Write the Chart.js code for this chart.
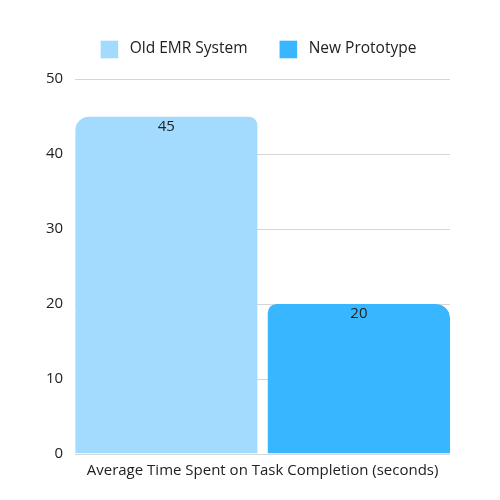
<!DOCTYPE html>
<html>
<head>
<meta charset="utf-8">
<script src="https://cdn.jsdelivr.net/npm/chart.js@4/dist/chart.umd.min.js"></script>
<style>
html,body{margin:0;padding:0;background:#fff;}
#wrap{width:500px;height:500px;}
</style>
</head>
<body>
<div id="wrap"><canvas id="c" width="500" height="500"></canvas></div>
<script>
const categories = ["Average Time Spent on Task Completion (seconds)"];
const seriesNames = ["Old EMR System", "New Prototype"];
const oldValues = [45];
const newValues = [20];
const yTicks = [0, 10, 20, 30, 40, 50];

const FONT = "'Open Sans', 'Noto Sans', sans-serif";
const TEXT = "#222222";

const valueLabels = {
  id: "valueLabels",
  afterDatasetsDraw(chart) {
    const ctx = chart.ctx;
    ctx.save();
    ctx.font = "15px " + FONT;
    ctx.fillStyle = TEXT;
    ctx.textAlign = "center";
    ctx.textBaseline = "middle";
    chart.data.datasets.forEach((ds, i) => {
      const bw = ds.borderWidth || {};
      const shift = ((bw.left || 0) - (bw.right || 0)) / 2;
      chart.getDatasetMeta(i).data.forEach((bar, j) => {
        ctx.fillText(String(ds.data[j]), bar.x + shift, bar.y + 10);
      });
    });
    ctx.restore();
  }
};

const customLegend = {
  id: "customLegend",
  afterDraw(chart) {
    const ctx = chart.ctx;
    const box = 17.6, gapText = 11.5, gapItem = 32, cy = 49.5;
    ctx.save();
    ctx.font = "15.5px " + FONT;
    const items = chart.data.datasets.map(ds => ({
      text: ds.label, color: ds.backgroundColor, w: ctx.measureText(ds.label).width
    }));
    const total = items.reduce((s, it) => s + box + gapText + it.w, 0) + gapItem * (items.length - 1);
    let x = 258.5 - total / 2;
    ctx.textBaseline = "middle";
    ctx.textAlign = "left";
    items.forEach(it => {
      ctx.fillStyle = it.color;
      ctx.fillRect(x, cy - box / 2, box, box);
      x += box + gapText;
      ctx.fillStyle = TEXT;
      ctx.fillText(it.text, x, cy - 1);
      x += it.w + gapItem;
    });
    ctx.restore();
  }
};

new Chart(document.getElementById("c"), {
  type: "bar",
  data: {
    labels: categories,
    datasets: [
      {
        label: seriesNames[0],
        data: oldValues,
        backgroundColor: "#A2DBFE",
        borderColor: "rgba(0,0,0,0)",
        borderWidth: {left: 0, right: 5.2, top: 0, bottom: 0},
        borderRadius: {topLeft: 14, topRight: 14, bottomLeft: 0, bottomRight: 0},
        borderSkipped: "bottom"
      },
      {
        label: seriesNames[1],
        data: newValues,
        backgroundColor: "#38B6FF",
        borderColor: "rgba(0,0,0,0)",
        borderWidth: {left: 5.2, right: 0, top: 0, bottom: 0},
        borderRadius: {topLeft: 14, topRight: 14, bottomLeft: 0, bottomRight: 0},
        borderSkipped: "bottom"
      }
    ]
  },
  options: {
    responsive: false,
    animation: false,
    devicePixelRatio: 1,
    layout: {padding: {left: 34, right: 50, top: 79, bottom: 20}},
    datasets: {bar: {barPercentage: 1, categoryPercentage: 1, inflateAmount: 0}},
    plugins: {
      legend: {display: false},
      tooltip: {enabled: false}
    },
    scales: {
      x: {
        grid: {display: false},
        border: {display: false},
        ticks: {font: {family: FONT, size: 15}, color: TEXT, padding: 0}
      },
      y: {
        min: 0,
        max: 50,
        afterBuildTicks(scale) { scale.ticks = yTicks.map(v => ({value: v})); },
        grid: {color: "#d6d6d6", drawTicks: false, lineWidth: 1},
        border: {display: false},
        ticks: {font: {family: FONT, size: 15}, color: TEXT, padding: 12}
      }
    }
  },
  plugins: [valueLabels, customLegend]
});
</script>
</body>
</html>
